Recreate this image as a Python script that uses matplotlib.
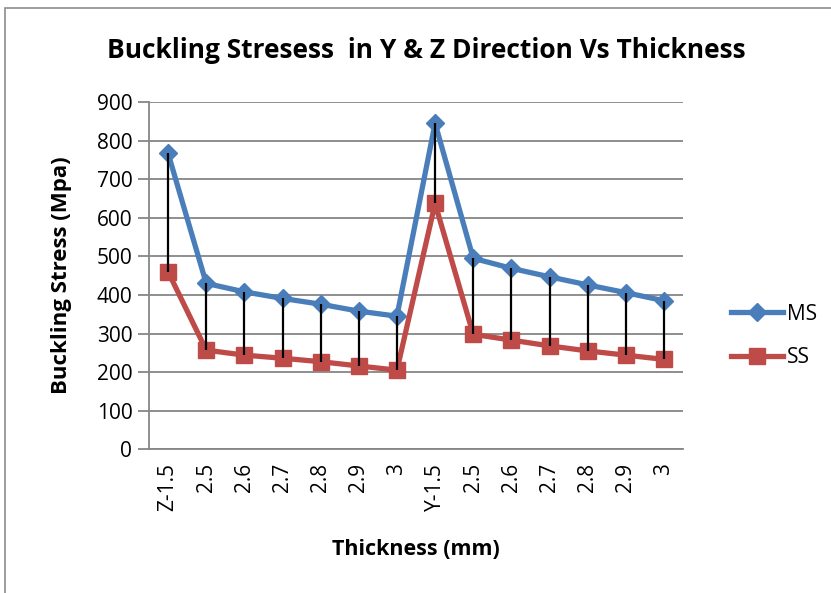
import matplotlib.pyplot as plt
from matplotlib.patches import Rectangle
from matplotlib.lines import Line2D

plt.rcParams['font.family'] = ['Open Sans', 'DejaVu Sans']

categories = ['Z-1.5', '2.5', '2.6', '2.7', '2.8', '2.9', '3',
              'Y-1.5', '2.5', '2.6', '2.7', '2.8', '2.9', '3']
ms = [767, 430, 408, 391, 376, 358, 345, 845, 495, 469, 447, 426, 406, 385]
ss = [460, 257, 244, 236, 227, 216, 205, 637, 298, 283, 268, 255, 244, 233]

blue = '#4A7EBB'
red = '#BE4B48'
grid = '#868686'

fig = plt.figure(figsize=(8.31, 5.93), dpi=100)
fig.patches.append(Rectangle((5/831, -0.1), 2, 1.1 - 8/593, transform=fig.transFigure,
                             fill=False, edgecolor='#8C8C8C', linewidth=1.2))

ax = fig.add_axes([149/831, 1 - 449.3/593, 534/831, (449.3 - 102)/593])
x = list(range(len(categories)))

# high-low lines
ax.vlines(x, ss, ms, colors='black', linewidth=1.6, zorder=4)
ax.plot(x, ms, color=blue, linewidth=3.8, marker='D', markersize=9.5, zorder=3)
ax.plot(x, ss, color=red, linewidth=3.8, marker='s', markersize=11, zorder=3)

ax.set_xlim(-0.5, len(categories) - 0.5)
ax.set_ylim(0, 900)
ax.set_yticks(range(0, 901, 100))
ax.set_xticks(x)
ax.set_xticklabels(categories, rotation=90)
ax.yaxis.grid(True, color=grid, linewidth=1.3)
ax.set_axisbelow(True)
for s in ['top', 'right']:
    ax.spines[s].set_visible(False)
for s in ['left', 'bottom']:
    ax.spines[s].set_color(grid)
    ax.spines[s].set_linewidth(1.3)
ax.tick_params(axis='y', length=8, color=grid, width=1.3, labelsize=15, pad=4)
ax.tick_params(axis='x', length=0, labelsize=15, pad=10)

ax.set_xlabel('Thickness (mm)', fontsize=15.5, fontweight='bold', labelpad=20)
ax.set_ylabel('Buckling Stress (Mpa)', fontsize=16, fontweight='bold', labelpad=18)
fig.text(426/831, 1 - 50/593, 'Buckling Stresess  in Y & Z Direction Vs Thickness',
         ha='center', va='center', fontsize=19, fontweight='bold')

handles = [Line2D([], [], color=blue, linewidth=3.8, marker='D', markersize=9.5),
           Line2D([], [], color=red, linewidth=3.8, marker='s', markersize=11)]
fig.legend(handles, ['MS', 'SS'], loc='center left', bbox_to_anchor=(712/831, 1 - 336/593),
           frameon=False, fontsize=15, handlelength=2.5, handletextpad=0.2, labelspacing=1.1)

fig.savefig('out.png', dpi=100)
